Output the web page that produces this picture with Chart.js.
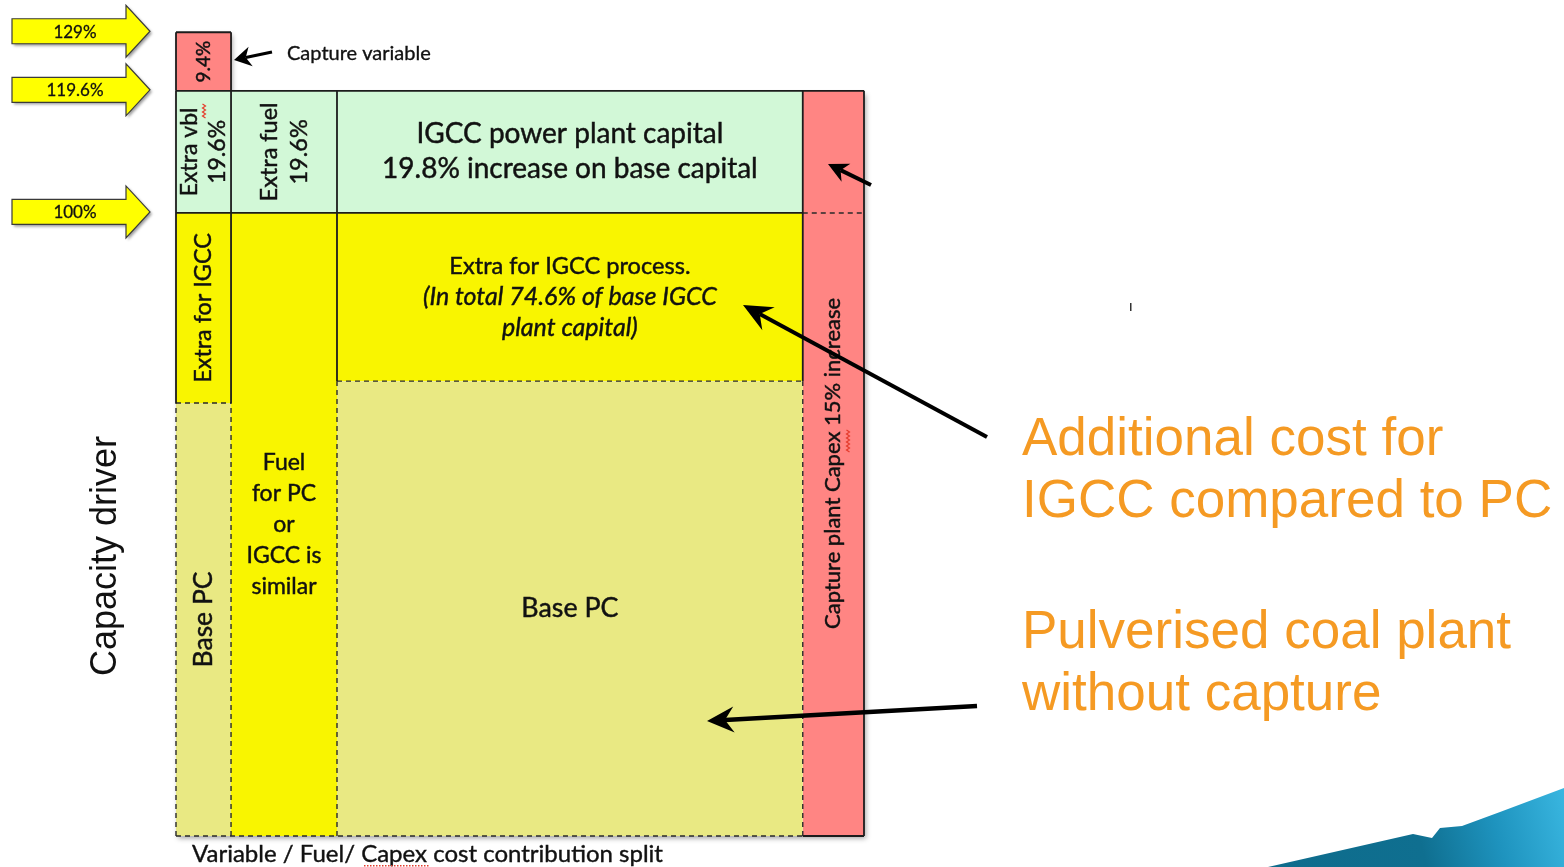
<!DOCTYPE html>
<html lang="en">
<head>
  <meta charset="UTF-8">
  <title>IGCC vs PC - cost contribution split</title>
  <script src="https://cdn.jsdelivr.net/npm/chart.js"></script>
  <style>
    html, body { margin: 0; padding: 0; background: #fff; }
    #wrap { width: 1564px; height: 867px; }
  </style>
</head>
<body>
  <div id="wrap"><canvas id="split" width="1564" height="867"></canvas></div>

  <script>
    // x axis: share of width for each cost column (%)
    const columns = ['Variable', 'Fuel', 'Capex', 'Capture capex'];
    const columnShare = [8.0, 15.4, 67.7, 8.9];

    // y axis: capacity driver levels (%)
    const levelTicks = [129, 119.6, 100];
    const levelLabels = ['129%', '119.6%', '100%'];
    const baseLevel = 100;
    const igccLevel = 119.6;
    const captureLevel = 129;
    const basePcVariable = 69.5;   // top of Base PC in the variable column
    const basePcCapex = 73;        // top of Base PC in the capex column

    // blocks (parallel arrays)
    const blockCol  = [0, 0, 0, 0, 1, 1, 2, 2, 2, 3];
    const blockFrom = [0, basePcVariable, baseLevel, igccLevel, 0, baseLevel, 0, basePcCapex, baseLevel, 0];
    const blockTo   = [basePcVariable, baseLevel, igccLevel, captureLevel, baseLevel, igccLevel, basePcCapex, baseLevel, igccLevel, igccLevel];
    const blockKind = ['base', 'extra', 'green', 'capture', 'extra', 'green', 'base', 'extra', 'green', 'capture'];
    const blockText = [
      ['Base PC'],
      ['Extra for IGCC'],
      ['Extra vbl', '19.6%'],
      ['9.4%'],
      ['Fuel', 'for PC', 'or', 'IGCC is', 'similar'],
      ['Extra fuel', '19.6%'],
      ['Base PC'],
      ['Extra for IGCC process.', '(In total 74.6% of base IGCC', 'plant capital)'],
      ['IGCC power plant capital', '19.8% increase on base capital'],
      ['Capture plant Capex 15% increase']
    ];

    // edges: [column edge index, y, column edge index, y]
    const solidEdges = [
      [0, igccLevel, 0, captureLevel], [0, captureLevel, 1, captureLevel], [1, igccLevel, 1, captureLevel],
      [0, igccLevel, 4, igccLevel],
      [0, baseLevel, 3, baseLevel],
      [0, basePcVariable, 0, igccLevel], [1, basePcVariable, 1, igccLevel],
      [2, basePcCapex, 2, igccLevel], [3, basePcCapex, 3, igccLevel],
      [4, 0, 4, igccLevel], [3, 0, 4, 0]
    ];
    const dashedEdges = [
      [0, 0, 0, basePcVariable], [1, 0, 1, basePcVariable], [0, basePcVariable, 1, basePcVariable],
      [0, 0, 3, 0],
      [2, 0, 2, basePcCapex], [3, 0, 3, basePcCapex], [2, basePcCapex, 3, basePcCapex],
      [3, baseLevel, 4, baseLevel]
    ];

    const annotations = [
      ['Additional cost for', 'IGCC compared to PC'],
      ['Pulverised coal plant', 'without capture']
    ];
    const axisTitleY = 'Capacity driver';
    const axisTitleX = 'Variable / Fuel/ Capex cost contribution split';

    // ---- styles ----
    const kindColour = { base: '#E9E983', extra: '#F9F500', green: '#D2F8D7', capture: '#FF8583' };
    const labelStyle = [
      { size: 26.5, rot: true },
      { size: 23.4, rot: true },
      { size: 23, rot: true, lh: 28 },
      { size: 19, rot: true },
      { size: 23, rot: false, lh: 31 },
      { size: 23.5, rot: true, lh: 30 },
      { size: 26.8, rot: false },
      { size: 23.6, rot: false, lh: 31, italicFrom: 1, italicSize: 25 },
      { size: 28, rot: false, lh: 35 },
      { size: 22, rot: true }
    ];
    const textFont = 'Lato, "Open Sans", sans-serif';
    const orange = '#F59A23';

    const colEdge = columnShare.reduce((a, w) => { a.push(+(a[a.length - 1] + w).toFixed(2)); return a; }, [0]);

    const datasets = [];
    blockCol.forEach((c, i) => {
      const x0 = colEdge[c], x1 = colEdge[c + 1], y0 = blockFrom[i], y1 = blockTo[i];
      datasets.push({
        data: [{ x: x0, y: y0 }, { x: x1, y: y0 }, { x: x1, y: y1 }, { x: x0, y: y1 }, { x: x0, y: y0 }],
        backgroundColor: kindColour[blockKind[i]],
        borderColor: 'rgba(0,0,0,0)',
        borderWidth: 0,
        fill: 'shape',
        clip: false,
        order: 3
      });
    });
    function edgeSet(e, dashed) {
      return {
        data: [{ x: colEdge[e[0]], y: e[1] }, { x: colEdge[e[2]], y: e[3] }],
        borderColor: dashed ? '#2a2a2a' : '#1c1c1c',
        borderWidth: dashed ? 1.4 : 1.8,
        borderDash: dashed ? [5, 4] : [],
        fill: false,
        clip: false,
        order: dashed ? 2 : 1
      };
    }
    dashedEdges.forEach(e => datasets.push(edgeSet(e, true)));
    solidEdges.forEach(e => datasets.push(edgeSet(e, false)));

    function blackArrow(ctx, x0, y0, x1, y1, w, L, H, N) {
      const ang = Math.atan2(y1 - y0, x1 - x0);
      ctx.save();
      ctx.strokeStyle = '#000';
      ctx.fillStyle = '#000';
      ctx.lineWidth = w;
      ctx.beginPath();
      ctx.moveTo(x0, y0);
      ctx.lineTo(x1 - Math.cos(ang) * N, y1 - Math.sin(ang) * N);
      ctx.stroke();
      ctx.translate(x1, y1);
      ctx.rotate(ang);
      ctx.beginPath();
      ctx.moveTo(0, 0);
      ctx.lineTo(-L, -H);
      ctx.lineTo(-N, 0);
      ctx.lineTo(-L, H);
      ctx.closePath();
      ctx.fill();
      ctx.restore();
    }

    function squiggle(ctx, x0, y0, x1, y1) {
      const len = Math.hypot(x1 - x0, y1 - y0), ang = Math.atan2(y1 - y0, x1 - x0);
      ctx.save();
      ctx.translate(x0, y0);
      ctx.rotate(ang);
      ctx.strokeStyle = '#E53B2C';
      ctx.lineWidth = 1.2;
      ctx.beginPath();
      for (let s = 0; s <= len; s += 2) ctx.lineTo(s, (Math.round(s / 2) % 2) ? -1.5 : 1.5);
      ctx.stroke();
      ctx.restore();
    }

    function boldText(ctx, t, x, y, w) {
      ctx.lineWidth = w;
      ctx.strokeStyle = ctx.fillStyle;
      ctx.strokeText(t, x, y);
      ctx.fillText(t, x, y);
    }

    const decor = {
      id: 'decor',
      beforeDatasetsDraw(chart) {
        const { ctx, scales: { x, y } } = chart;
        ctx.save();
        ctx.shadowColor = 'rgba(0,0,0,0.35)';
        ctx.shadowBlur = 5;
        ctx.shadowOffsetX = 2;
        ctx.shadowOffsetY = 3;
        ctx.fillStyle = '#fff';
        ctx.fillRect(x.getPixelForValue(0), y.getPixelForValue(igccLevel),
          x.getPixelForValue(100) - x.getPixelForValue(0), y.getPixelForValue(0) - y.getPixelForValue(igccLevel));
        ctx.fillRect(x.getPixelForValue(0), y.getPixelForValue(captureLevel),
          x.getPixelForValue(colEdge[1]) - x.getPixelForValue(0), y.getPixelForValue(igccLevel) - y.getPixelForValue(captureLevel));
        ctx.restore();
      },
      afterDatasetsDraw(chart) {
        const { ctx, scales: { x, y } } = chart;

        // block labels
        blockCol.forEach((c, i) => {
          const st = labelStyle[i];
          const cx = (x.getPixelForValue(colEdge[c]) + x.getPixelForValue(colEdge[c + 1])) / 2;
          const cy = (y.getPixelForValue(blockFrom[i]) + y.getPixelForValue(blockTo[i])) / 2;
          const lines = blockText[i];
          const lh = st.lh || st.size * 1.2;
          ctx.save();
          ctx.translate(cx, cy);
          if (st.rot) ctx.rotate(-Math.PI / 2);
          ctx.fillStyle = '#111';
          ctx.textAlign = 'center';
          ctx.textBaseline = 'middle';
          lines.forEach((t, k) => {
            const it = st.italicFrom !== undefined && k >= st.italicFrom;
            ctx.font = (it ? 'italic ' + (st.italicSize || st.size) : st.size) + 'px ' + textFont;
            boldText(ctx, t, 0, (k - (lines.length - 1) / 2) * lh, 0.45);
          });
          ctx.restore();
        });

        // spell-check squiggles
        squiggle(ctx, 204, 104, 204, 118);
        squiggle(ctx, 848, 430, 848, 452);

        // level arrows on the left
        levelTicks.forEach((v, i) => {
          const cy = y.getPixelForValue(v) - 1;
          ctx.save();
          ctx.shadowColor = 'rgba(0,0,0,0.4)';
          ctx.shadowBlur = 3;
          ctx.shadowOffsetX = 2;
          ctx.shadowOffsetY = 2;
          ctx.beginPath();
          ctx.moveTo(12, cy - 12.5);
          ctx.lineTo(126, cy - 12.5);
          ctx.lineTo(126, cy - 26);
          ctx.lineTo(150, cy);
          ctx.lineTo(126, cy + 26);
          ctx.lineTo(126, cy + 12.5);
          ctx.lineTo(12, cy + 12.5);
          ctx.closePath();
          ctx.fillStyle = '#FFFF00';
          ctx.fill();
          ctx.shadowColor = 'rgba(0,0,0,0)';
          ctx.strokeStyle = '#3a3a3a';
          ctx.lineWidth = 1.2;
          ctx.stroke();
          ctx.fillStyle = '#111';
          ctx.font = '17px ' + textFont;
          ctx.textAlign = 'center';
          ctx.textBaseline = 'middle';
          boldText(ctx, levelLabels[i], 75, cy + 1, 0.3);
          ctx.restore();
        });

        // axis titles
        ctx.save();
        ctx.translate(106, 556);
        ctx.rotate(-Math.PI / 2);
        ctx.font = '36px "Liberation Sans", Arial, sans-serif';
        ctx.fillStyle = '#111';
        ctx.textAlign = 'center';
        ctx.textBaseline = 'middle';
        ctx.fillText(axisTitleY, 0, 0);
        ctx.restore();

        ctx.save();
        ctx.font = '24px ' + textFont;
        ctx.fillStyle = '#111';
        ctx.textAlign = 'left';
        ctx.textBaseline = 'middle';
        boldText(ctx, axisTitleX, 192, 854, 0.4);
        ctx.restore();
        ctx.save();
        ctx.fillStyle = '#E53B2C';
        for (let sx = 364; sx < 428; sx += 3) ctx.fillRect(sx, 865, 1.5, 1.5);
        ctx.restore();

        // capture variable note
        ctx.save();
        ctx.font = '20px ' + textFont;
        ctx.fillStyle = '#111';
        ctx.textBaseline = 'middle';
        boldText(ctx, 'Capture variable', 287, 54, 0.35);
        ctx.restore();
        blackArrow(ctx, 272, 52, 234, 60, 3.2, 17, 10, 12);

        // pointer arrows
        blackArrow(ctx, 871, 185, 828, 164, 4, 20, 10, 14);
        blackArrow(ctx, 987, 437, 743, 305, 4, 29, 13, 19);
        blackArrow(ctx, 977, 706, 707, 721, 4.5, 27, 13, 18);

        // orange annotations
        ctx.save();
        ctx.font = '53px "Liberation Sans", Arial, sans-serif';
        ctx.fillStyle = orange;
        ctx.textAlign = 'left';
        ctx.textBaseline = 'alphabetic';
        ctx.fillText(annotations[0][0], 1022, 455);
        ctx.fillText(annotations[0][1], 1022, 517);
        ctx.fillText(annotations[1][0], 1022, 648);
        ctx.fillText(annotations[1][1], 1022, 710);
        ctx.restore();

        // stray mark
        ctx.save();
        ctx.fillStyle = '#333';
        ctx.fillRect(1130, 303, 1.5, 8);
        ctx.restore();

        // logo swoosh bottom right
        ctx.save();
        const g = ctx.createLinearGradient(1270, 867, 1564, 790);
        g.addColorStop(0, '#0E6C8C');
        g.addColorStop(0.5, '#0F6F90');
        g.addColorStop(0.75, '#1E93BE');
        g.addColorStop(1, '#39B6E0');
        ctx.fillStyle = g;
        ctx.beginPath();
        ctx.moveTo(1268, 867);
        ctx.lineTo(1413, 834);
        ctx.lineTo(1432, 838);
        ctx.lineTo(1440, 828);
        ctx.lineTo(1462, 826);
        ctx.lineTo(1500, 812);
        ctx.lineTo(1564, 788);
        ctx.lineTo(1564, 867);
        ctx.closePath();
        ctx.fill();
        ctx.restore();
      }
    };

    const ctx = document.getElementById('split').getContext('2d');
    new Chart(ctx, {
      type: 'line',
      data: { datasets: datasets },
      options: {
        responsive: false,
        animation: false,
        events: [],
        layout: { padding: { left: 176, right: 700, top: 31, bottom: 31 } },
        elements: { point: { radius: 0, hoverRadius: 0 }, line: { tension: 0 } },
        scales: {
          x: { type: 'linear', min: 0, max: 100, display: false },
          y: { type: 'linear', min: 0, max: 129.2, display: false }
        },
        plugins: {
          legend: { display: false },
          tooltip: { enabled: false }
        }
      },
      plugins: [decor]
    });
  </script>
</body>
</html>
